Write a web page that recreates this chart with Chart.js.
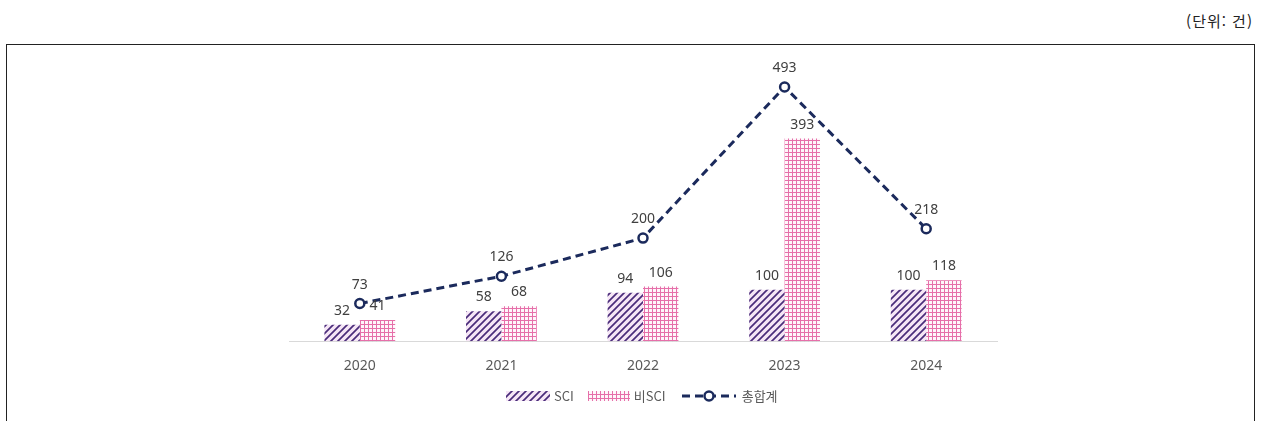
<!DOCTYPE html>
<html lang="ko">
<head>
<meta charset="utf-8">
<title>SCI / 비SCI 건수</title>
<script src="https://cdn.jsdelivr.net/npm/chart.js@4.4.1/dist/chart.umd.min.js"></script>
<style>
  html, body { margin: 0; padding: 0; background: #fff; }
  body { width: 1263px; height: 421px; position: relative; overflow: hidden; font-family: "Noto Sans CJK KR", "Noto Sans", sans-serif; }
  #unit { position: absolute; right: 10px; top: 10px; font-size: 15px; color: #222; letter-spacing: 1px; }
  #frame { position: absolute; left: 6px; top: 44px; width: 1249px; height: 400px; border: 1px solid #222; border-bottom: none; box-sizing: border-box; }
  #chartWrap { position: absolute; left: 0; top: 0; width: 1263px; height: 421px; }
  #legend { position: absolute; left: 506px; top: 386px; display: flex; align-items: center; font-size: 13px; color: #595959; }
  #legend .item { display: flex; align-items: center; margin-right: 14px; }
  #legend canvas { margin-right: 4px; }
</style>
</head>
<body>
<div id="unit">(단위: 건)</div>
<div id="frame"></div>
<div id="chartWrap"><canvas id="chart" width="1263" height="421"></canvas></div>
<div id="legend">
  <div class="item"><canvas id="lgSci" width="44" height="12"></canvas><span>SCI</span></div>
  <div class="item"><canvas id="lgNon" width="42" height="12"></canvas><span>비SCI</span></div>
  <div class="item"><canvas id="lgTot" width="58" height="14"></canvas><span>총합계</span></div>
</div>
<script>
const years = ['2020', '2021', '2022', '2023', '2024'];
const sciCounts = [32, 58, 94, 100, 100];
const nonSciCounts = [41, 68, 106, 393, 118];
const totalCounts = [73, 126, 200, 493, 218];

const NAVY = '#1b2a5c';
const LABEL = '#404040';

// diagonal hatch for SCI
function hatchPattern(ctx) {
  const c = document.createElement('canvas');
  c.width = 7; c.height = 7;
  const g = c.getContext('2d');
  g.fillStyle = '#f6e6f6';
  g.fillRect(0, 0, 7, 7);
  g.strokeStyle = '#4a2c7a';
  g.lineWidth = 1.7;
  g.beginPath();
  g.moveTo(-1, 8); g.lineTo(8, -1);
  g.moveTo(-4, 4); g.lineTo(4, -4);
  g.moveTo(3, 11); g.lineTo(11, 3);
  g.stroke();
  return ctx.createPattern(c, 'repeat');
}

// small pink grid for non-SCI
function gridPattern(ctx) {
  const c = document.createElement('canvas');
  c.width = 4; c.height = 4;
  const g = c.getContext('2d');
  g.fillStyle = '#fef6fa';
  g.fillRect(0, 0, 4, 4);
  g.fillStyle = '#e66fa9';
  g.fillRect(0, 0, 4, 1);
  g.fillRect(0, 0, 1, 4);
  return ctx.createPattern(c, 'repeat');
}

const ctx = document.getElementById('chart').getContext('2d');

// value labels above bars and points
const valueLabels = {
  id: 'valueLabels',
  afterDatasetsDraw(chart) {
    const c = chart.ctx;
    c.save();
    c.font = '14px "Noto Sans", sans-serif';
    c.fillStyle = LABEL;
    c.textAlign = 'center';
    c.textBaseline = 'middle';
    chart.data.datasets.forEach((ds, i) => {
      const meta = chart.getDatasetMeta(i);
      const off = ds.type === 'line' ? 19 : 14;
      meta.data.forEach((el, j) => {
        c.fillText(String(ds.data[j]), el.x, el.y - off);
      });
    });
    c.restore();
  }
};

new Chart(ctx, {
  data: {
    labels: years,
    datasets: [
      {
        type: 'line',
        label: '총합계',
        data: totalCounts,
        borderColor: NAVY,
        borderWidth: 3,
        borderDash: [8, 5],
        pointRadius: 4.5,
        pointBorderWidth: 2.5,
        pointBackgroundColor: '#fff',
        pointBorderColor: NAVY,
        tension: 0,
        order: 0
      },
      {
        type: 'bar',
        label: 'SCI',
        data: sciCounts,
        backgroundColor: hatchPattern(ctx),
        categoryPercentage: 0.5,
        barPercentage: 1,
        order: 1
      },
      {
        type: 'bar',
        label: '비SCI',
        data: nonSciCounts,
        backgroundColor: gridPattern(ctx),
        categoryPercentage: 0.5,
        barPercentage: 1,
        order: 1
      }
    ]
  },
  options: {
    responsive: false,
    animation: false,
    layout: { padding: { left: 289, right: 266, top: 55, bottom: 39 } },
    plugins: { legend: { display: false }, tooltip: { enabled: false } },
    scales: {
      x: {
        grid: { display: false },
        border: { color: '#d9d9d9', width: 1 },
        ticks: { color: '#595959', font: { size: 14, family: '"Noto Sans", sans-serif' }, padding: 8 }
      },
      y: { display: false, min: 0, max: 555 }
    }
  },
  plugins: [valueLabels]
});

// legend swatches
(function () {
  const a = document.getElementById('lgSci').getContext('2d');
  a.fillStyle = hatchPattern(a);
  a.fillRect(0, 1, 44, 10);
  const b = document.getElementById('lgNon').getContext('2d');
  b.fillStyle = gridPattern(b);
  b.fillRect(0, 1, 42, 10);
  const t = document.getElementById('lgTot').getContext('2d');
  t.strokeStyle = NAVY;
  t.lineWidth = 3;
  t.setLineDash([8, 5]);
  t.beginPath(); t.moveTo(2, 7); t.lineTo(56, 7); t.stroke();
  t.setLineDash([]);
  t.beginPath(); t.arc(29, 7, 4.5, 0, Math.PI * 2);
  t.fillStyle = '#fff'; t.fill();
  t.lineWidth = 2.5; t.stroke();
})();
</script>
</body>
</html>
